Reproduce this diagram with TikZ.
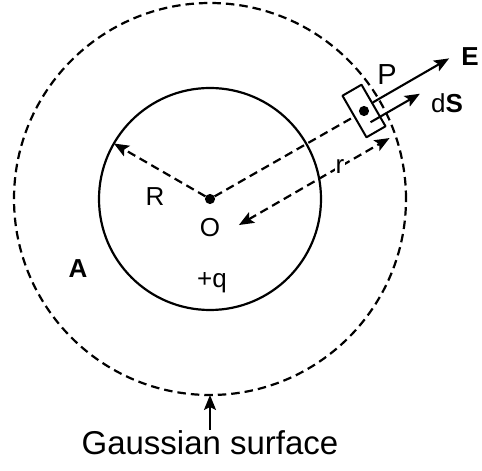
\documentclass[tikz,border=0pt]{standalone}
\usepackage{fontspec}
\setmainfont{Liberation Sans}
\usetikzlibrary{arrows.meta,calc}

\begin{document}
\begin{tikzpicture}[
    x=1pt,y=1pt,
    font=\fontsize{26}{28}\selectfont,
    line cap=butt,
    line join=round,
    sphere/.style={draw=black, line width=2.2pt},
    dashline/.style={draw=black, line width=2.2pt, dash pattern=on 8.5pt off 5pt},
    vec/.style={draw=black, line width=2.1pt},
    tip/.style={-{Stealth[length=15pt,width=12pt,inset=3pt]}},
    twotip/.style={{Stealth[length=15pt,width=12pt,inset=3pt]}-{Stealth[length=15pt,width=12pt,inset=3pt]}},
    vertex/.style={circle,fill,inner sep=3.6pt},
    tag/.style={inner sep=1pt},
    element/.style={draw=black, line width=2pt, rotate=30, minimum width=22pt, minimum height=48pt, inner sep=0pt}
]

\useasboundingbox (0,0) rectangle (482,471);

\coordinate (O) at (210,272);
\coordinate (Rtip) at ($(O)+(150:111)$);
\coordinate (Gbot) at ($(O)+(270:196)$);
\coordinate (rA) at ($(O)+(30:12)+(-60:37)$);
\coordinate (rB) at ($(O)+(30:186)+(-60:37)$);

\draw[sphere] (O) circle[radius=111];
\draw[dashline] (O) circle[radius=196];

\node[element] (dA) at (364,360) {};
\node[vertex] (Pdot) at (dA.center) {};
\node[vertex] (Odot) at (O) {};

\coordinate (Es) at ($(dA.east)+(120:3)$);
\coordinate (Et) at ($(Es)+(30:88)$);
\coordinate (Ss) at ($(dA.center)+(300:13)$);
\coordinate (St) at ($(Ss)+(30:57)$);

\draw[dashline] (Odot) -- (dA.west);
\draw[dashline,tip] (Odot) -- (Rtip);
\draw[dashline,twotip] (rA) -- node[tag,fill=white,pos=0.67] (rlab) {r} (rB);

\draw[vec,tip] (Es) -- (Et);
\draw[vec,tip] (Ss) -- (St);

\node[tag,font=\fontsize{29}{30}\selectfont] (P) at (387,396) {P};
\node[tag,font=\fontsize{26}{28}\selectfont\bfseries] (E) at (470,414) {E};
\node[tag] (dS) at (447,368) {d\textbf{S}};
\node[tag] (R) at (155,274) {R};
\node[tag] (Olab) at (210,243) {O};
\node[tag] (q) at (212,188) {+q};
\node[tag,font=\fontsize{26}{28}\selectfont\bfseries] (A) at (78,202) {A};

\node[tag,anchor=base,font=\fontsize{33}{36}\selectfont] (gs) at (210,16) {Gaussian surface};
\draw[vec,tip] (gs.north) -- (Gbot);

\end{tikzpicture}
\end{document}
